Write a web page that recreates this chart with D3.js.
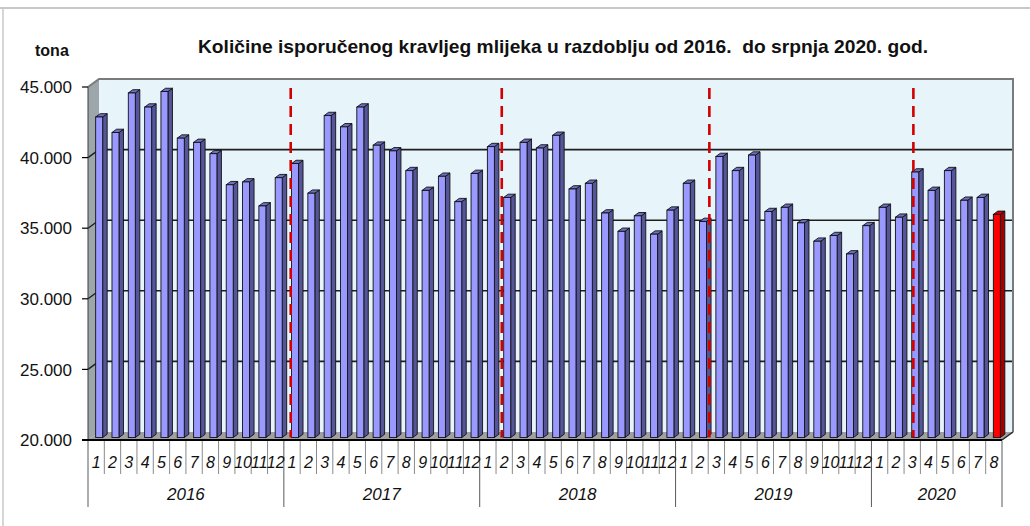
<!DOCTYPE html>
<html>
<head>
<meta charset="utf-8">
<script src="https://cdn.jsdelivr.net/npm/d3@7"></script>
<style>
body { margin: 0; background: #fff; }
svg { font-family: "Liberation Sans", Arial, sans-serif; }
.narrow { font-family: "Liberation Sans Narrow", "Arial Narrow", "Liberation Sans", Arial, sans-serif; }
</style>
</head>
<body>
<script>
// isporuke kravljeg mlijeka, tona po mjesecu
var years = [2016, 2017, 2018, 2019, 2020];
var tons2016 = [42700, 41600, 44400, 43400, 44500, 41200, 40900, 40100, 37900, 38100, 36400, 38400];
var tons2017 = [39400, 37300, 42800, 42000, 43400, 40700, 40300, 38900, 37500, 38500, 36700, 38700];
var tons2018 = [40600, 37000, 40900, 40500, 41400, 37600, 38000, 35900, 34600, 35700, 34400, 36100];
var tons2019 = [38000, 35300, 39900, 38900, 40000, 36000, 36300, 35200, 33900, 34300, 33000, 35000];
var tons2020 = [36300, 35600, 38800, 37500, 38900, 36800, 37000, 35800];
var yTicks = [20000, 25000, 30000, 35000, 40000, 45000];
var highlight = ["2020-8"];
// crvene iscrtkane oznake, u jedinicama mjeseci od početka osi
var markers = [12.42, 25.35, 38.07, 50.57];

var title = "Količine isporučenog kravljeg mlijeka u razdoblju od 2016.  do srpnja 2020. god.";

var byYear = {2016: tons2016, 2017: tons2017, 2018: tons2018, 2019: tons2019, 2020: tons2020};
var data = [];
years.forEach(function(yr) {
    byYear[yr].forEach(function(v, i) {
        data.push({key: yr + "-" + (i + 1), year: yr, month: i + 1, value: v});
    });
});

var W = 1030, H = 526;
var svg = d3.select("body").append("svg")
    .attr("width", W)
    .attr("height", H);

var x = d3.scaleBand()
    .domain(data.map(d => d.key))
    .range([88, 1002]);
var xi = d3.scaleLinear().domain([0, data.length]).range([88, 1002]);
var y = d3.scaleLinear()
    .domain([20000, 45000])
    .range([440, 87]);

var back = {dx: 11, dy: -8};
var barOff = {dx: 3, dy: -2.5};
var barW = 7;
var side = {dx: 4.5, dy: -3.3};

var nf = d3.formatLocale({decimal: ",", thousands: ".", grouping: [3], currency: ["", ""]}).format(",");

var x0 = x.range()[0], x1 = x.range()[1];
var yTop = y(45000), yBot = y(20000);

// okvir
svg.append("line").attr("x1", 0).attr("x2", W).attr("y1", 8).attr("y2", 8)
    .attr("stroke", "#b5b5b5").attr("stroke-width", 1.5);
svg.append("line").attr("x1", 3).attr("x2", 3).attr("y1", 8).attr("y2", H)
    .attr("stroke", "#c8c8c8").attr("stroke-width", 1.5);

// zidovi
svg.append("polygon")
    .attr("points", [[x0, yTop], [x0 + back.dx, yTop + back.dy], [x0 + back.dx, yBot + back.dy], [x0, yBot]].join(" "))
    .attr("fill", "#9da6aa");
svg.append("rect")
    .attr("x", x0 + back.dx).attr("y", yTop + back.dy)
    .attr("width", x1 - x0).attr("height", yBot - yTop)
    .attr("fill", "#e7f4fa");
svg.append("polygon")
    .attr("points", [[x0, yBot], [x0 + back.dx, yBot + back.dy], [x1 + back.dx, yBot + back.dy], [x1, yBot]].join(" "))
    .attr("fill", "#a0a0a0");

// mreža
var grid = yTicks.filter(t => t > 20000 && t < 45000);
svg.selectAll(".grid").data(grid).enter().append("line")
    .attr("x1", x0 + back.dx).attr("x2", x1 + back.dx)
    .attr("y1", d => y(d) + back.dy).attr("y2", d => y(d) + back.dy)
    .attr("stroke", "#1e1e1e").attr("stroke-width", 1.6);
svg.selectAll(".gridside").data(grid).enter().append("line")
    .attr("x1", x0).attr("x2", x0 + back.dx)
    .attr("y1", d => y(d)).attr("y2", d => y(d) + back.dy)
    .attr("stroke", "#1e1e1e").attr("stroke-width", 1.3);

svg.append("polyline")
    .attr("points", [[x0, yTop], [x0 + back.dx, yTop + back.dy], [x1 + back.dx, yTop + back.dy], [x1 + back.dx, yBot + back.dy]].join(" "))
    .attr("fill", "none").attr("stroke", "#7a7a7a").attr("stroke-width", 2);

// stupci
var bars = svg.selectAll(".bar").data(data).enter().append("g").attr("class", "bar");
function bx(d) { return x(d.key) + x.bandwidth() / 2 + barOff.dx - barW / 2; }
function by(d) { return y(d.value) + barOff.dy; }
var yb = y(20000) + barOff.dy;
function isRed(d) { return highlight.indexOf(d.key) >= 0; }

bars.append("polygon")
    .attr("points", d => [[bx(d) + barW, by(d)], [bx(d) + barW + side.dx, by(d) + side.dy],
        [bx(d) + barW + side.dx, yb + side.dy], [bx(d) + barW, yb]].join(" "))
    .attr("fill", d => isRed(d) ? "#a30000" : "#55559a")
    .attr("stroke", "#111").attr("stroke-width", 0.9).attr("stroke-linejoin", "round");
bars.append("polygon")
    .attr("points", d => [[bx(d), by(d)], [bx(d) + side.dx, by(d) + side.dy],
        [bx(d) + barW + side.dx, by(d) + side.dy], [bx(d) + barW, by(d)]].join(" "))
    .attr("fill", d => isRed(d) ? "#d00000" : "#6f6fc4")
    .attr("stroke", "#111").attr("stroke-width", 0.9).attr("stroke-linejoin", "round");
bars.append("rect")
    .attr("x", bx).attr("y", by)
    .attr("width", barW).attr("height", d => yb - by(d))
    .attr("fill", d => isRed(d) ? "#ff0000" : "#9999ff")
    .attr("stroke", "#111").attr("stroke-width", 0.9);

// osi
svg.append("line").attr("x1", x0).attr("x2", x0).attr("y1", yTop).attr("y2", yBot)
    .attr("stroke", "#3a3a3a").attr("stroke-width", 1);
svg.append("line").attr("x1", x0 - 6).attr("x2", x1).attr("y1", yBot).attr("y2", yBot)
    .attr("stroke", "#000").attr("stroke-width", 2);
svg.append("line").attr("x1", x1).attr("x2", x1 + back.dx).attr("y1", yBot).attr("y2", yBot + back.dy)
    .attr("stroke", "#222").attr("stroke-width", 1.5);

svg.selectAll(".ytick").data(yTicks).enter().append("line")
    .attr("x1", x0 - 6).attr("x2", x0).attr("y1", d => y(d)).attr("y2", d => y(d))
    .attr("stroke", "#000").attr("stroke-width", 1.2);
svg.selectAll(".ylab").data(yTicks).enter().append("text")
    .attr("x", 72).attr("y", d => y(d)).attr("dy", "0.36em")
    .attr("text-anchor", "end")
    .attr("font-size", 17)
    .attr("fill", "#111")
    .text(d => nf(d));

// iscrtkane linije
svg.selectAll(".marker").data(markers).enter().append("line")
    .attr("x1", d => xi(d)).attr("x2", d => xi(d))
    .attr("y1", yTop + 1).attr("y2", yb)
    .attr("stroke", "#d20000").attr("stroke-width", 2.6)
    .attr("stroke-dasharray", "11,7");

// x os: mjeseci i godine
var seps = d3.range(0, data.length + 1);
var yearStarts = [0];
years.forEach(function(yr) { yearStarts.push(yearStarts[yearStarts.length - 1] + byYear[yr].length); });
svg.selectAll(".xsep").data(seps).enter().append("line")
    .attr("x1", d => xi(d)).attr("x2", d => xi(d))
    .attr("y1", yBot + 1).attr("y2", d => yearStarts.indexOf(d) >= 0 ? 507 : 474)
    .attr("stroke", d => yearStarts.indexOf(d) >= 0 ? "#5a5a5a" : "#8a8a8a")
    .attr("stroke-width", 1);

svg.selectAll(".mlab").data(data).enter().append("text")
    .attr("class", "narrow")
    .attr("x", d => x(d.key) + x.bandwidth() / 2)
    .attr("y", 468)
    .attr("text-anchor", "middle")
    .attr("font-size", 16)
    .attr("font-style", "italic")
    .attr("fill", "#111")
    .text(d => d.month);

svg.selectAll(".ylab2").data(years).enter().append("text")
    .attr("class", "narrow")
    .attr("x", (d, i) => (xi(yearStarts[i]) + xi(yearStarts[i + 1])) / 2)
    .attr("y", 500)
    .attr("text-anchor", "middle")
    .attr("font-size", 17)
    .attr("font-style", "italic")
    .attr("fill", "#111")
    .text(d => d);

// naslov
svg.append("text")
    .attr("x", 563).attr("y", 53)
    .attr("text-anchor", "middle")
    .attr("font-size", 19)
    .attr("font-weight", "bold")
    .attr("fill", "#111")
    .style("white-space", "pre")
    .attr("textLength", 730)
    .attr("lengthAdjust", "spacingAndGlyphs")
    .text(title);

svg.append("text")
    .attr("x", 35).attr("y", 56)
    .attr("font-size", 16)
    .attr("font-weight", "bold")
    .attr("fill", "#111")
    .text("tona");
</script>
</body>
</html>
